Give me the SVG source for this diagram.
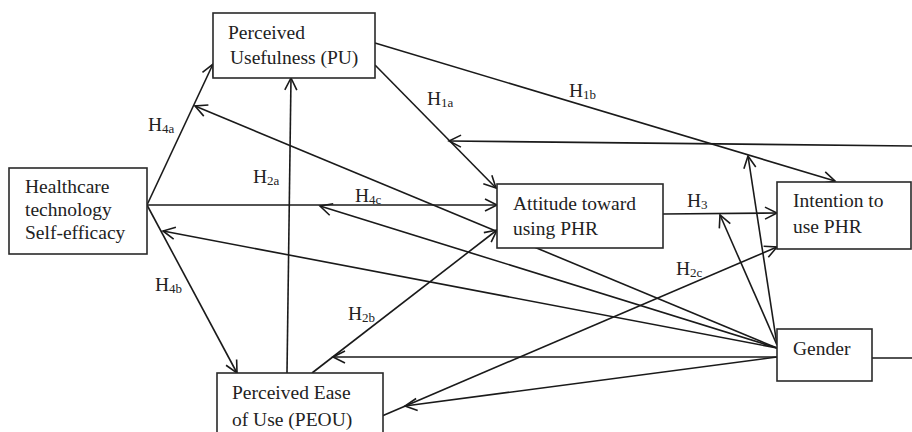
<svg xmlns="http://www.w3.org/2000/svg" width="912" height="432" viewBox="0 0 912 432">
<defs>
<marker id="arr" markerUnits="userSpaceOnUse" orient="auto" refX="0" refY="0" markerWidth="16" markerHeight="16" viewBox="-14 -8 16 16" overflow="visible">
<path d="M-12,-6 L0,0 L-12,6" fill="none" stroke="#1a1a1a" stroke-width="1.6" stroke-linejoin="miter"/>
</marker>
</defs>
<style>
.c{fill:none;stroke:#1a1a1a;stroke-width:1.6}
.a{marker-end:url(#arr)}
.box{fill:#fff;stroke:#2a2a2a;stroke-width:1.6}
.t{font-family:"Liberation Serif","Times New Roman",serif;font-size:19.5px;fill:#222}
.l{font-family:"Liberation Serif","Times New Roman",serif;font-size:19.5px;fill:#222}
.s{font-size:13px}
</style>
<rect width="912" height="432" fill="#fff"/>
<g id="connectors">
<path class="c a" d="M147,205 L213,64"/>
<path class="c a" d="M147,205 L237,373"/>
<path class="c a" d="M147,205 L497,205"/>
<path class="c a" d="M287,373 L291,78"/>
<path class="c a" d="M375,65 L496,188"/>
<path class="c a" d="M375,43 L835,181"/>
<path class="c a" d="M312,373 L497,230"/>
<path class="c a" d="M663,214 L777,213"/>
<path class="c a" d="M382,416 L777,247"/>
<path class="c a" d="M777,348 L195,106"/>
<path class="c a" d="M777,348 L320,206"/>
<path class="c a" d="M777,348 L163,231"/>
<path class="c a" d="M777,357 L333,357"/>
<path class="c a" d="M777,357 L405,406"/>
<path class="c a" d="M777,345 L720,215"/>
<path class="c a" d="M777,345 L748,156"/>
<path class="c" d="M872,358 L912,358"/>
<path class="c a" d="M912,146 L449,141"/>
</g>
<g id="labels">
<text class="l" x="148" y="131">H<tspan class="s" dy="2">4a</tspan></text>
<text class="l" x="427" y="105">H<tspan class="s" dy="2">1a</tspan></text>
<text class="l" x="253" y="183">H<tspan class="s" dy="2">2a</tspan></text>
<text class="l" x="355" y="202">H<tspan class="s" dy="2">4c</tspan></text>
<text class="l" x="569" y="97">H<tspan class="s" dy="2">1b</tspan></text>
<text class="l" x="687" y="207">H<tspan class="s" dy="2">3</tspan></text>
<text class="l" x="155" y="291">H<tspan class="s" dy="2">4b</tspan></text>
<text class="l" x="348" y="320">H<tspan class="s" dy="2">2b</tspan></text>
<text class="l" x="676" y="275">H<tspan class="s" dy="2">2c</tspan></text>
</g>
<g id="pu">
<rect class="box" x="213" y="13" width="162" height="65"/>
<text class="t" x="228" y="39">Perceived</text>
<text class="t" x="230" y="64">Usefulness (PU)</text>
</g>
<g id="hse">
<rect class="box" x="9" y="168" width="138" height="86"/>
<text class="t" x="25" y="193">Healthcare</text>
<text class="t" x="25" y="216">technology</text>
<text class="t" x="25" y="239">Self-efficacy</text>
</g>
<g id="peou">
<rect class="box" x="217" y="373" width="166" height="80"/>
<text class="t" x="232" y="399">Perceived Ease</text>
<text class="t" x="232" y="426">of Use (PEOU)</text>
</g>
<g id="attitude">
<rect class="box" x="497" y="184" width="166" height="64"/>
<text class="t" x="513" y="210">Attitude toward</text>
<text class="t" x="513" y="235">using PHR</text>
</g>
<g id="intention">
<rect class="box" x="777" y="182" width="134" height="67"/>
<text class="t" x="793" y="207">Intention to</text>
<text class="t" x="793" y="233">use PHR</text>
</g>
<g id="gender">
<rect class="box" x="777" y="329" width="95" height="52"/>
<text class="t" x="793" y="355">Gender</text>
</g>
</svg>
